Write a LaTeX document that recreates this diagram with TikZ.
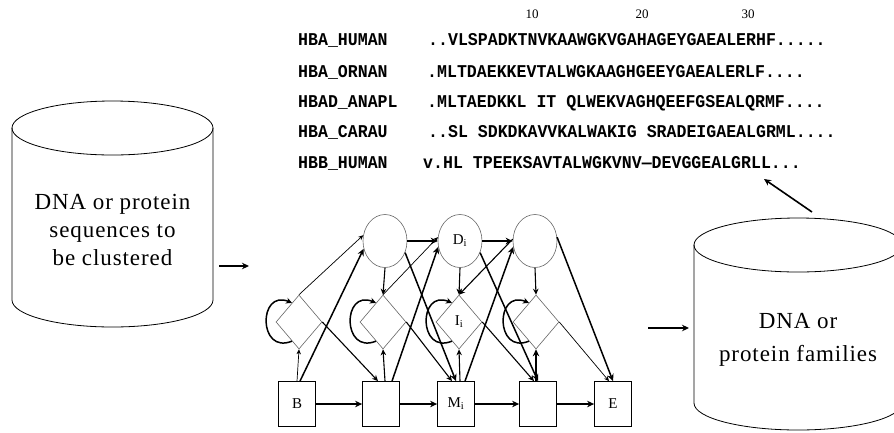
\documentclass[tikz,border=0pt]{standalone}
\usepackage{fontspec}
\setmainfont{Liberation Serif}
\newfontfamily\seqfont[FakeStretch=0.92]{Liberation Mono}
\usetikzlibrary{arrows.meta,shapes.geometric,calc}

\begin{document}
\begin{tikzpicture}[x=1pt,y=-1pt,
  cyl/.style={line width=0.8pt},
  cyltext/.style={align=center, inner sep=0pt},
  seq/.style={anchor=base west, inner sep=0pt, font=\seqfont\bfseries\fontsize{18}{18}\selectfont},
  num/.style={inner sep=0pt, font=\fontsize{13}{13}\selectfont},
  mst/.style={draw, line width=0.8pt, minimum width=37pt, minimum height=45pt, inner sep=0pt, font=\fontsize{15}{15}\selectfont},
  ist/.style={diamond, draw=black!60, line width=0.6pt, minimum width=46pt, minimum height=54pt, inner sep=0pt, font=\fontsize{15}{15}\selectfont},
  dst/.style={ellipse, draw=black!60, line width=0.6pt, minimum width=44pt, minimum height=53pt, inner sep=0pt, font=\fontsize{15}{15}\selectfont},
  thk/.style={line width=1.5pt, -{Stealth[length=7pt,width=6.5pt]}},
  med/.style={line width=1.1pt, -{Stealth[length=6pt,width=5.5pt]}},
  thn/.style={line width=0.7pt, -{Stealth[length=5pt,width=4.5pt]}},
  selfloop/.style={line width=1.5pt, -{Stealth[length=6pt,width=6pt]}},
  bigarr/.style={line width=1.6pt, -{Stealth[length=7pt,width=6.5pt]}}
]
\useasboundingbox (0,0) rectangle (894,432);
\clip (0,0) rectangle (894,432);
\fill[white] (0,0) rectangle (894,432);

% ---- source database (left cylinder)
\draw[cyl] (112.5,128) ellipse[x radius=100.5, y radius=27];
\draw[cyl] (12,128) -- (12,300) arc[start angle=180, end angle=0, x radius=100.5, y radius=27] -- (213,128);
\node[cyltext, font=\fontsize{23}{28}\selectfont\addfontfeatures{LetterSpace=4}] (srcdb) at (112.5,230) {DNA or protein\\sequences to\\be clustered};

% ---- result database (right cylinder)
\draw[cyl] (798,245) ellipse[x radius=104, y radius=27];
\draw[cyl] (694,245) -- (694,403) arc[start angle=180, end angle=0, x radius=104, y radius=27] -- (902,245);
\node[cyltext, font=\fontsize{23}{33}\selectfont\addfontfeatures{LetterSpace=4}] (famdb) at (798,340) {DNA or\\protein families};

% ---- multiple alignment
\node[num] (t10) at (532,14) {10};
\node[num] (t20) at (642,14) {20};
\node[num] (t30) at (748,14) {30};
\node[seq] (n1) at (298,45)  {HBA\_HUMAN};
\node[seq] (n2) at (298,77)  {HBA\_ORNAN};
\node[seq] (n3) at (298,107) {HBAD\_ANAPL};
\node[seq] (n4) at (298,137) {HBA\_CARAU};
\node[seq] (n5) at (298,168) {HBB\_HUMAN};
\node[seq] (s1) at (428,45)  {..VLSPADKTNVKAAWGKVGAHAGEYGAEALERHF.....};
\node[seq] (s2) at (427,77)  {.MLTDAEKKEVTALWGKAAGHGEEYGAEALERLF....};
\node[seq] (s3) at (427,107) {.MLTAEDKKL IT QLWEKVAGHQEEFGSEALQRMF....};
\node[seq] (s4) at (428,137) {..SL SDKDKAVVKALWAKIG SRADEIGAEALGRML....};
\node[seq] (s5) at (423,168) {v.HL TPEEKSAVTALWGKVNV—DEVGGEALGRLL...};

% ---- profile HMM states
\node[mst] (B)  at (297,404) {B};
\node[mst] (M1) at (381,404) {};
\node[mst] (Mi) at (456,404) {M\textsubscript{i}};
\node[mst] (M3) at (538,404) {};
\node[mst] (E)  at (613,404) {E};
\node[ist] (I0) at (299,322) {};
\node[ist] (I1) at (383,322) {};
\node[ist] (Ii) at (459,322) {I\textsubscript{i}};
\node[ist] (I3) at (536,322) {};
\node[dst] (D1) at (385,241) {};
\node[dst] (Di) at (460,241) {D\textsubscript{i}};
\node[dst] (D3) at (535,241) {};

% match and delete chains
\draw[thk] (B) -- (M1);
\draw[thk] (M1) -- (Mi);
\draw[thk] (Mi) -- (M3);
\draw[thk] (M3) -- (E);
\draw[thk] (D1) -- (Di);
\draw[thk] (Di) -- (D3);

% delete -> insert
\draw[med] (D1.south) -- (I1.north);
\draw[med] (Di.south) -- (Ii.north);
\draw[med] (D3.south) -- (I3.north);

% match -> insert
\draw[thn] (B.north) -- (I0.south);
\draw[med] ([xshift=4pt]M1.north) -- (I1.south);
\draw[med] ([xshift=4pt]Mi.north) -- (Ii.south);
\draw[thk] ([xshift=-2pt]M3.north) -- (I3.south);

% insert self loops
\foreach \s in {I0,I1,Ii,I3}
  \draw[selfloop] ($(\s.south)!0.3!(\s.west)$) .. controls +(-34,14) and +(-34,-14) .. ($(\s.north)!0.3!(\s.west)$);

% insert -> next match
\draw[med] (I0.east) -- ([xshift=-3pt]M1.north);
\draw[med] (I1.east) -- ([xshift=-4pt]Mi.north);
\draw[med] (Ii.east) -- ([xshift=-4pt]M3.north);
\draw[thn] (I3.east) -- ([xshift=-4pt]E.north);

% match -> next delete
\draw[thk] ([xshift=3pt]B.north) -- (D1.200);
\draw[thk] ([xshift=11pt]M1.north) -- (Di.195);
\draw[thk] ([xshift=9pt]Mi.north) -- (D3.195);

% insert <-> next delete
\draw[thn] (I0.north) -- (D1.165);
\draw[thn] (I1.north) -- (Di.170);
\draw[med] (D3.175) -- (Ii.north);

% delete -> next match
\draw[thk] (D1.330) -- (Mi.north);
\draw[thk] (Di.330) -- (M3.north);
\draw[thk] (D3.10) -- (E.north);

% ---- flow between stages
\coordinate (a1s) at (219,266);
\coordinate (a1e) at (249,266);
\draw[bigarr] (a1s) -- (a1e);
\coordinate (a2s) at (648,328);
\coordinate (a2e) at (689,328);
\draw[bigarr] (a2s) -- (a2e);
\coordinate (a3s) at (812,212);
\coordinate (a3e) at (764,179);
\draw[bigarr] (a3s) -- (a3e);
\end{tikzpicture}
\end{document}
